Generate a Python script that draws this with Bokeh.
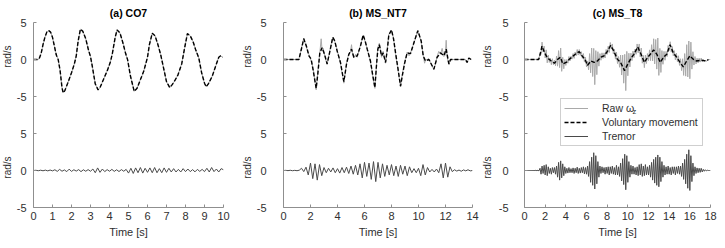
import numpy as np
from math import pi
from bokeh.plotting import figure
from bokeh.models import Range1d, FixedTicker, Label, Legend, LegendItem
from bokeh.layouts import row
from bokeh.embed import file_html
from bokeh.resources import INLINE

# ---------------- data ----------------
TITLES = ["(a) CO7", "(b) MS_NT7", "(c) MS_T8"]
X_MAX = [10, 14, 18]
X_TICKS = [list(range(0, 11, 1)), list(range(0, 15, 2)), list(range(0, 19, 2))]
Y_TICK_LABELS = ["-5", "0", "5"]
Y_LABEL = "rad/s"
LEGEND_LABELS = ["Raw \u03c9", "Voluntary movement", "Tremor"]

# (a) CO7 voluntary movement (raw signal is visually identical)
CO7_VOL = [(0, 0), (0.2, 0), (0.3, 0.1), (0.4, 0.8), (0.5, 2.0), (0.6, 3.0), (0.7, 3.7), (0.8, 3.9),
           (0.9, 3.7), (1.0, 3.0), (1.1, 1.8), (1.2, 0.6), (1.3, 0.0), (1.4, -1.5), (1.5, -3.8),
           (1.56, -4.5), (1.65, -4.2), (1.8, -3.2), (2.0, -1.8), (2.15, -0.6), (2.25, 0.5), (2.35, 2.5),
           (2.47, 4.1), (2.6, 3.8), (2.75, 2.8), (2.9, 1.2), (3.0, 0.4), (3.1, -1.0), (3.25, -3.3),
           (3.4, -4.1), (3.5, -3.8), (3.7, -2.6), (3.9, -1.4), (4.05, -0.3), (4.15, 0.8), (4.3, 3.0),
           (4.4, 4.0), (4.55, 3.6), (4.7, 2.3), (4.85, 0.8), (4.95, 0.0), (5.1, -2.2), (5.3, -4.3),
           (5.45, -3.9), (5.6, -2.9), (5.8, -1.6), (6.0, 0.3), (6.1, 2.0), (6.25, 3.55), (6.4, 3.2),
           (6.55, 2.0), (6.7, 0.6), (6.85, -1.2), (7.0, -3.0), (7.17, -3.8), (7.3, -3.4), (7.45, -2.8),
           (7.6, -2.1), (7.8, -0.6), (7.95, 1.5), (8.1, 3.5), (8.25, 3.2), (8.4, 2.4), (8.55, 1.2),
           (8.7, 0.2), (8.85, -1.8), (9.0, -3.2), (9.09, -3.7), (9.2, -3.3), (9.4, -2.3), (9.6, -0.8),
           (9.75, 0.3), (9.85, 0.5), (9.95, 0.3)]
CO7_RAW = CO7_VOL
# tremor extremes, evenly spaced over 0..10 s
CO7_TREM = [0, 0.03, -0.03, 0.04, -0.04, 0.05, -0.05, 0.06, -0.05,
            0.1, -0.12, 0.15, -0.1, 0.08, -0.15, 0.18, -0.12, 0.1, -0.08, 0.12, -0.15, 0.1, -0.1, 0.12, -0.1,
            0.2, -0.3, 0.35, -0.25, 0.2,
            -0.15, 0.12, -0.1, 0.15, -0.12, 0.1, -0.14, 0.12, -0.1, 0.15,
            -0.35, 0.3, -0.4, 0.35, -0.3, 0.4, -0.35, 0.3, -0.25, 0.35, -0.3, 0.4, -0.3, 0.25, -0.3, 0.35, -0.25, 0.3,
            -0.2, 0.25, -0.2, 0.15, -0.2, 0.25, -0.15, 0.2, -0.15, 0.12, -0.18, 0.15, -0.12, 0.15, -0.15,
            0.3, -0.2, 0.4, -0.15, 0.2, -0.2, 0.25, 0.1]

# (b) MS_NT7
NT7_VOL = [(0, 0), (1.14, 0), (1.3, 1.2), (1.5, 2.8), (1.7, 1.8), (1.88, 0.5), (2.05, 0.05), (2.2, -1.5),
           (2.42, -3.9), (2.55, -1.8), (2.69, 0.9), (2.86, 1.6), (3.04, 0.7), (3.23, -0.6), (3.4, 0.8),
           (3.65, 3.0), (3.8, 2.5), (3.98, 1.1), (4.22, -0.4), (4.47, -3.0), (4.67, -0.6), (4.84, 0.7),
           (5.04, 1.4), (5.21, 0.3), (5.46, 0.5), (5.7, 1.8), (5.9, 3.3), (6.05, 2.5), (6.2, 1.4),
           (6.44, -0.2), (6.6, -2.0), (6.77, -3.8), (6.9, -0.5), (6.99, 1.4), (7.1, 2.0), (7.26, 0.5),
           (7.38, 0.9), (7.56, -0.4), (7.7, 1.5), (7.8, 3.3), (8.0, 4.0), (8.15, 2.8), (8.3, 0.9),
           (8.47, -1.1), (8.67, -3.6), (8.8, -2.2), (8.96, -0.6), (9.16, 0.9), (9.41, 0.8), (9.7, 2.5),
           (9.95, 3.9), (10.2, 2.5), (10.35, 0.5), (10.52, -0.2), (10.77, 0), (11.14, -1.3), (11.38, 0.3),
           (11.63, 0.9), (11.88, 0.5), (12.05, 1.4), (12.25, -0.6), (12.37, 0), (13.48, 0), (13.6, -0.4),
           (13.73, 0.2), (13.9, 0)]
NT7_RAW = [(0, 0), (1.14, 0), (1.3, 1.3), (1.5, 2.9), (1.7, 1.6), (1.88, 0.7), (2.05, -0.2), (2.2, -1.2),
           (2.42, -4.1), (2.55, -1.5), (2.69, 0.9), (2.79, 2.8), (2.86, 1.2), (2.95, 1.5), (3.04, 0.6),
           (3.23, -0.7), (3.4, 0.9), (3.65, 3.0), (3.8, 2.4), (3.98, 1.2), (4.22, -0.5), (4.47, -3.2),
           (4.67, -0.5), (4.84, 0.8), (4.96, 1.0), (5.04, 2.0), (5.1, 0.9), (5.21, 0.2), (5.35, 0.7),
           (5.46, 0.3), (5.7, 1.9), (5.9, 3.3), (6.05, 2.4), (6.2, 1.5), (6.44, -0.3), (6.6, -2.2),
           (6.77, -3.9), (6.9, -0.4), (6.99, 1.6), (7.1, 2.2), (7.26, 0.3), (7.38, 1.1), (7.48, 0.2),
           (7.56, -0.5), (7.7, 1.6), (7.8, 3.4), (8.0, 3.9), (8.15, 2.9), (8.3, 0.8), (8.47, -1.3),
           (8.67, -3.7), (8.8, -2.0), (8.96, -0.5), (9.16, 1.0), (9.3, 0.5), (9.41, 0.9), (9.7, 2.4),
           (9.95, 3.9), (10.2, 2.4), (10.35, 0.6), (10.45, -0.5), (10.52, -0.1), (10.77, 0.1),
           (11.14, -1.4), (11.38, 0.4), (11.5, 1.1), (11.63, 0.7), (11.75, 1.5), (11.88, 0.4),
           (11.98, 0.6), (12.05, 2.6), (12.12, 0.3), (12.25, -0.7), (12.37, 0), (13.48, 0),
           (13.6, -0.4), (13.73, 0.2), (13.9, 0)]
# tremor extremes, evenly spaced over 0..14 s
NT7_TREM = [0, 0.02, -0.02, 0.03, -0.03, 0.02, -0.03, 0.04,
            0.3, -0.15, 0.45,
            -0.6, 1.0, -1.1, 0.9, -1.3, 0.8, -0.7,
            0.4, -0.3, 0.3, -0.2, 0.35, -0.3, 0.25, -0.35, 0.4, -0.3, 0.45, -0.4,
            0.6, -0.5, 0.7, -0.6,
            0.9, -1.0, 1.1, -0.8, 1.0, -1.2, 1.2, -1.5, 1.1, -1.0, 0.9, -0.8,
            0.7, -0.6, 0.8, -0.7, 0.6, -0.8, 0.7, -0.5, 0.6, -0.7, 0.5,
            -0.3, 0.25, -0.3, 0.3,
            -0.7, 0.8, -0.6, 0.4,
            -0.2, 0.15, -0.2, 0.2, -0.3,
            0.9, -1.0, 1.0, -0.9, 0.5,
            -0.15, 0.1, -0.08, 0.06, -0.1, 0.08, -0.05, 0.1, -0.05, 0]

# (c) MS_T8
T8_VOL = [(0, 0), (1.37, 0), (1.5, 0.6), (1.69, 1.8), (1.95, 0.9), (2.2, 0.25), (2.59, -0.2), (2.9, -0.5),
          (3.23, 0.05), (3.48, 0.3), (3.7, -0.6), (4.03, -0.4), (4.35, 0.05), (4.66, 0.4), (4.98, 0.8),
          (5.3, 1.05), (5.62, 0.4), (5.85, 0.05), (6.1, -0.8), (6.42, -0.2), (6.74, -0.4), (7.06, -0.2),
          (7.38, 0.3), (7.7, 0.5), (8.02, 1.1), (8.34, 1.9), (8.66, 1.1), (8.98, 0.05), (9.3, -0.4),
          (9.68, -1.5), (10.0, -0.6), (10.26, 0.05), (10.58, 0.7), (10.96, 1.7), (11.28, 0.7), (11.6, -0.4),
          (11.92, 0.3), (12.24, 0.8), (12.49, 1.3), (12.81, 0.7), (13.13, -0.4), (13.45, 0.3), (13.77, 0.7),
          (14.09, 2.0), (14.4, 0.9), (14.73, 0.3), (15.05, -0.4), (15.37, -1.0), (15.69, -0.2), (16.0, 0.5),
          (16.32, 0.05), (16.64, -0.2), (17.1, -0.1), (17.6, -0.2), (17.8, 0)]
# raw signal, one value per 0.1 s over 0..18 s
T8_RAW = [0, 0, 0, 0, 0, 0, 0, 0, 0, 0,
          0, 0.02, -0.02, 0.03, 0.05, 0.9, 0.7, 2.35, 1.0, 1.8,
          0.2, 1.3, -0.45, 0.6, -0.4, 0.2, -0.7, 0.1, -0.7, -0.1,
          -0.85, 0.45, -0.9, 1.2, -1.1, 1.55, -1.6, 0.3, -1.25, 0.0,
          -0.8, 0.0, -0.5, 0.4, -0.2, 0.45, 0.05, 0.8, 0.15, 1.0,
          0.5, 1.35, 0.6, 1.35, 0.55, 1.05, 0.15, 0.8, -0.35, 0.3,
          -1.0, -0.2, -1.4, 0.8, -1.8, 1.55, -2.3, 1.5, -3.4, 1.2,
          -2.05, 1.05, -0.9, 0.8, -0.1, 0.9, 0.15, 0.9, 0.2, 1.35,
          0.7, 1.8, 0.95, 2.3, 1.4, 2.1, 0.75, 1.4, 0.05, 1.0,
          -0.55, 0.4, -1.05, 0.6, -2.1, 0.6, -3.2, 0.7, -4.2, 1.1,
          -2.2, 0.85, -1.0, 0.85, -0.15, 1.15, 0.25, 1.4, 0.7, 2.1,
          0.9, 2.1, 0.35, 1.55, -0.5, 0.55, -1.1, 0.6, -0.55, 0.8,
          -0.15, 1.3, -0.15, 2.0, -0.2, 2.8, -0.6, 2.7, -1.3, 2.9,
          -2.15, 1.5, -1.75, 1.2, -0.65, 1.1, -0.1, 1.1, 0.4, 1.9,
          1.2, 2.4, 1.0, 1.75, 0.5, 1.2, -0.05, 0.85, -0.3, 0.5,
          -0.8, 0.1, -1.5, 0.1, -2.15, 0.8, -2.25, 2.0, -2.35, 2.5,
          -2.6, 2.35, -1.3, 1.05, -0.75, 0.4, -0.6, 0.17, -0.45, 0.18,
          -0.35, 0.2, -0.32, 0, -0.28, -0.1, -0.25, -0.07, 0, 0,
          0]
# tremor, one value per 0.1 s over 0..18 s
T8_TREM = [0, 0, 0, 0, 0, 0, 0, 0, 0, 0,
           0, 0.02, -0.02, 0.03, -0.05, 0.3, -0.5, 0.6, -0.4, 0.7,
           -0.6, 0.8, -0.7, 0.5, -0.4, 0.3, -0.5, 0.4, -0.3, 0.4,
           -0.5, 0.6, -0.9, 1.1, -1.3, 1.3, -1.0, 0.9, -0.7, 0.5,
           -0.4, 0.3, -0.35, 0.4, -0.3, 0.25, -0.3, 0.35, -0.4, 0.3,
           -0.3, 0.45, -0.4, 0.3, -0.35, 0.4, -0.3, 0.5, -0.45, 0.4,
           -0.5, 0.6, -0.8, 1.2, -1.6, 1.8, -2.0, 2.4, -2.5, 2.0,
           -1.8, 1.2, -0.9, 0.6, -0.4, 0.5, -0.3, 0.4, -0.5, 0.45,
           -0.4, 0.5, -0.6, 0.5, -0.4, 0.6, -0.5, 0.4, -0.6, 0.7,
           -0.6, 0.5, -0.8, 1.0, -1.4, 1.6, -1.9, 2.2, -2.6, 2.0,
           -1.6, 1.2, -0.9, 0.7, -0.5, 0.6, -0.5, 0.4, -0.6, 0.5,
           -0.7, 0.8, -0.6, 0.9, -0.8, 0.6, -0.7, 0.8, -0.6, 0.5,
           -0.6, 0.7, -0.9, 1.1, -1.3, 1.5, -1.7, 1.8, -2.0, 2.1,
           -2.2, 1.8, -1.5, 1.2, -0.9, 0.7, -0.6, 0.5, -0.5, 0.6,
           -0.5, 0.4, -0.6, 0.5, -0.4, 0.5, -0.6, 0.5, -0.4, 0.6,
           -0.5, 0.6, -0.8, 1.0, -1.2, 1.5, -1.8, 2.2, -2.4, 2.8,
           -2.7, 2.0, -1.5, 1.0, -0.7, 0.5, -0.4, 0.35, -0.3, 0.3,
           -0.25, 0.3, -0.2, 0.15, -0.1, 0.1, -0.05, 0.03, 0, 0,
           0]

# ---------------- layout / style ----------------
UPPER_SHIFT = 15          # upper sub-axes are stacked 15 units above the lower one
FONT = "Liberation Sans"
TEXT = "#303030"
AXIS = "#8f8f8f"
RAW_C = "#a9a9a9"
TREM_C = "#4a4a4a"
FIG_H = 240
B_TOP, B_BOT = 22, 33
LAB_W = 13


def unzip(pairs, shift=0.0):
    t = [p[0] for p in pairs]
    v = [p[1] + shift for p in pairs]
    return t, v


def ylabel_strip():
    """Narrow strip holding the two 'rad/s' labels of the stacked sub-axes."""
    s = figure(width=LAB_W, height=FIG_H, output_backend="svg", toolbar_location=None, tools="",
               x_range=Range1d(0, 1), y_range=Range1d(-5, 20),
               x_axis_location=None, y_axis_location=None,
               min_border_left=0, min_border_right=0, min_border_top=B_TOP, min_border_bottom=B_BOT)
    s.outline_line_color = None
    s.grid.visible = False
    for yc in (UPPER_SHIFT + 0.4, 0.4):
        s.add_layout(Label(x=6.5, y=yc, x_units="screen", y_units="data", text=Y_LABEL,
                           angle=pi / 2, text_align="center", text_baseline="middle",
                           text_font=FONT, text_font_size="10px", text_color=TEXT))
    return s


def panel(i, vol, raw_t, raw_v, trem_t, trem_v, width, b_left, b_right, ystand, toff, legend=False):
    p = figure(width=width, height=FIG_H, output_backend="svg", toolbar_location=None, tools="",
               title=TITLES[i],
               x_range=Range1d(0, X_MAX[i]), y_range=Range1d(-5, 20),
               min_border_left=b_left, min_border_right=b_right,
               min_border_top=B_TOP, min_border_bottom=B_BOT)
    p.outline_line_color = None
    p.grid.visible = False
    p.background_fill_color = "white"
    p.border_fill_color = "white"
    p.title.align = "center"
    p.title.offset = toff
    p.title.text_font = FONT
    p.title.text_font_size = "10.5px"
    p.title.text_font_style = "bold"
    p.title.text_color = "black"
    p.title.standoff = 8

    vt, vv = unzip(vol, UPPER_SHIFT)
    r_raw = p.line(raw_t, [v + UPPER_SHIFT for v in raw_v], line_color=RAW_C, line_width=1)
    r_vol = p.line(vt, vv, line_color="black", line_width=1.4, line_dash="4 2")
    r_trem = p.line(trem_t, trem_v, line_color=TREM_C, line_width=1)

    for ax in (p.xaxis[0], p.yaxis[0]):
        ax.axis_line_color = AXIS
        ax.major_tick_line_color = AXIS
        ax.major_tick_in = 3
        ax.major_tick_out = 0
        ax.minor_tick_line_color = None
        ax.major_label_text_font = FONT
        ax.major_label_text_font_size = "11px"
        ax.major_label_text_color = TEXT
    p.xaxis.ticker = FixedTicker(ticks=X_TICKS[i])
    p.xaxis.major_label_standoff = 4
    p.xaxis.axis_label = "Time [s]"
    p.xaxis.axis_label_text_font = FONT
    p.xaxis.axis_label_text_font_size = "11px"
    p.xaxis.axis_label_text_font_style = "normal"
    p.xaxis.axis_label_text_color = TEXT
    p.xaxis.axis_label_standoff = 3

    lower = [-5, 0, 5]
    upper = [v + UPPER_SHIFT for v in lower]
    p.yaxis.ticker = FixedTicker(ticks=lower + upper)
    over = {}
    for v, lab in zip(lower, Y_TICK_LABELS):
        over[v] = lab
    for v, lab in zip(upper, Y_TICK_LABELS):
        over[v] = lab
    p.yaxis.major_label_overrides = over
    p.yaxis.major_label_standoff = ystand

    if legend:
        leg = Legend(items=[LegendItem(label=LEGEND_LABELS[0], renderers=[r_raw]),
                            LegendItem(label=LEGEND_LABELS[1], renderers=[r_vol]),
                            LegendItem(label=LEGEND_LABELS[2], renderers=[r_trem])],
                     location=(36, 61), margin=0, padding=3, spacing=2,
                     glyph_width=24, glyph_height=12, label_height=12, label_width=97,
                     label_standoff=14, label_text_font=FONT, label_text_font_size="10.5px",
                     label_text_color=TEXT, border_line_color="#a0a0a0", border_line_width=1,
                     background_fill_color="white", background_fill_alpha=0)
        p.add_layout(leg)
        p.add_layout(Label(x=36 + 3 + 24 + 14 + 31, y=96, x_units="screen", y_units="screen",
                           text="z", text_align="left", text_baseline="alphabetic",
                           text_font=FONT, text_font_size="7.5px", text_color=TEXT))
    return p


ca_t, ca_v = unzip(CO7_RAW)
pa = panel(0, CO7_VOL, ca_t, ca_v, np.linspace(0, X_MAX[0], len(CO7_TREM)), CO7_TREM,
           227, 20, 17, 7, -11)
cb_t, cb_v = unzip(NT7_RAW)
pb = panel(1, NT7_VOL, cb_t, cb_v, np.linspace(0, X_MAX[1], len(NT7_TREM)), NT7_TREM,
           227, 30, 8, 17, 0)
t8_t = np.linspace(0, X_MAX[2], len(T8_RAW))
pc = panel(2, T8_VOL, t8_t, T8_RAW, np.linspace(0, X_MAX[2], len(T8_TREM)), T8_TREM,
           224, 31, 7, 16, -2, legend=True)

layout = row(ylabel_strip(), pa, ylabel_strip(), pb, ylabel_strip(), pc)
open("out.html", "w").write(file_html(layout, INLINE))
